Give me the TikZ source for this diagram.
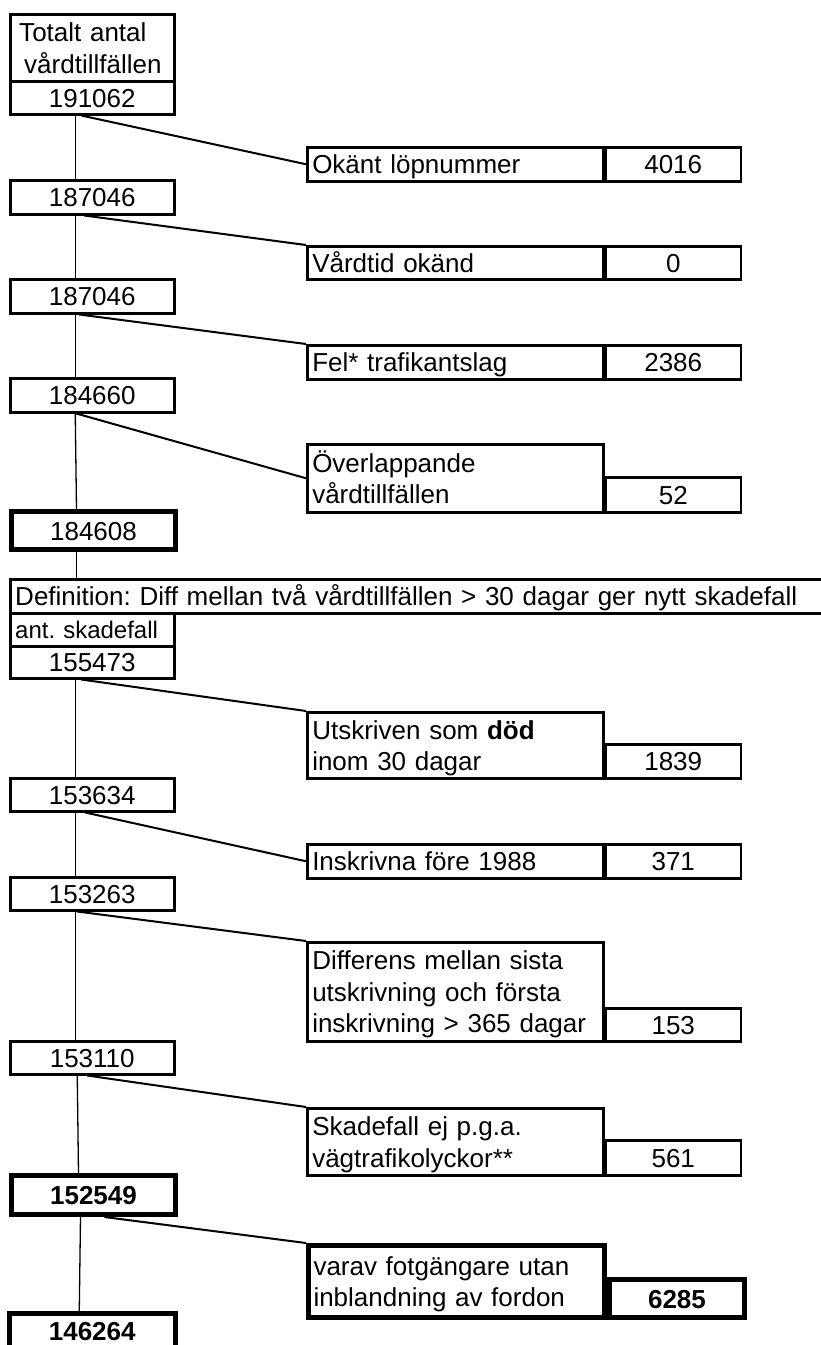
\documentclass[tikz,border=0pt]{standalone}
\usepackage{fontspec}
\setmainfont{Liberation Sans}
\frenchspacing
\usetikzlibrary{
		calc,
		positioning
	}
\tikzset{
		>=stealth,
		cell/.style={draw, line width=2.5pt, inner xsep=5pt, inner ysep=0pt,
			minimum height=33pt, anchor=north west, text height=19pt, text depth=0pt,
			font=\fontsize{26}{31.5}\selectfont},
		leftcell/.style={cell, minimum width=164pt, text width=154pt, align=center},
		labelcell/.style={cell, minimum width=296pt, text width=286pt, align=left},
		numcell/.style={cell, minimum width=135pt, text width=125pt, align=center,
			anchor=south west},
		heavy/.style={line width=5pt},
		stem/.style={line width=1.3pt},
		branch/.style={line width=2pt}
	}

\begin{document}
\begin{tikzpicture}[x=1pt, y=-1pt]
          \useasboundingbox (0,0) rectangle (821,1345);
          \clip (0,0) rectangle (821,1345);

          % left column
          \node[leftcell, align=left, minimum height=67pt, text depth=32pt,
               font=\fontsize{26}{32.5}\selectfont] (total) at (9,13)
               {\hspace*{4pt}Totalt antal\\\hspace*{9pt}vårdtillfällen};
          \node[leftcell] (n0) at (9,80) {191062};
          \node[leftcell, minimum height=34pt] (n1) at (9,179) {187046};
          \node[leftcell, minimum height=34pt] (n2) at (9,278) {187046};
          \node[leftcell, minimum height=34pt] (n3) at (9,377) {184660};
          \node[leftcell, heavy, minimum height=38pt] (n4) at (9,509) {184608};
          \node[cell, minimum width=900pt, text width=890pt, align=left,
               minimum height=34pt] (def) at (9,578)
               {Definition: Diff mellan två vårdtillfällen > 30 dagar ger nytt skadefall};
          \node[leftcell, align=left, text height=17.5pt,
               font=\fontsize{24}{30}\selectfont] (ant) at (9,612) {ant. skadefall};
          \node[leftcell, minimum height=32pt] (n5) at (9,645) {155473};
          \node[leftcell] (n6) at (9,777) {153634};
          \node[leftcell] (n7) at (9,876) {153263};
          \node[leftcell] (n8) at (9,1040) {153110};
          \node[leftcell, heavy, minimum height=39pt, font=\fontsize{26}{32}\selectfont\bfseries]
               (n9) at (9,1173) {152549};
          \node[leftcell, draw=none, minimum height=34pt,
               font=\fontsize{26}{32}\selectfont\bfseries] (n10) at (9,1313) {146264};
          \draw[heavy] (n10.south west) |- (n10.north east) -- (n10.south east);

          % right column
          \node[labelcell, minimum height=34pt] (r1) at (306,146) {Okänt löpnummer};
          \node[numcell, minimum height=34pt] (r1n) at (r1.south east) {4016};
          \node[labelcell] (r2) at (306,245) {Vårdtid okänd};
          \node[numcell] (r2n) at (r2.south east) {0};
          \node[labelcell, minimum height=34pt] (r3) at (306,344) {Fel* trafikantslag};
          \node[numcell, minimum height=34pt] (r3n) at (r3.south east) {2386};
          \node[labelcell, minimum height=68pt, text depth=31.5pt] (r4) at (306,443)
               {Överlappande\\vårdtillfällen};
          \node[numcell, minimum height=35pt] (r4n) at (r4.south east) {52};
          \node[labelcell, minimum height=66pt, text depth=31.5pt] (r5) at (306,711)
               {Utskriven som \textbf{död}\\inom 30 dagar};
          \node[numcell, minimum height=34pt] (r5n) at (r5.south east) {1839};
          \node[labelcell, minimum height=34pt] (r6) at (306,843) {Inskrivna före 1988};
          \node[numcell, minimum height=34pt] (r6n) at (r6.south east) {371};
          \node[labelcell, minimum height=99pt, text depth=63pt] (r7) at (306,941)
               {Differens mellan sista\\utskrivning och första\\inskrivning > 365 dagar};
          \node[numcell] (r7n) at (r7.south east) {153};
          \node[labelcell, minimum height=67pt, text depth=31.5pt] (r8) at (306,1107)
               {Skadefall ej p.g.a.\\vägtrafikolyckor**};
          \node[numcell, minimum height=35pt] (r8n) at (r8.south east) {561};
          \node[labelcell, heavy, minimum height=72pt, text depth=31.5pt] (r9) at (306,1243)
               {varav fotgängare utan\\inblandning av fordon};
          \node[numcell, heavy, minimum height=38pt, font=\fontsize{26}{32}\selectfont\bfseries]
               (r9n) at (r9.south east) {6285};

          % stems
          \draw[stem] ([xshift=-17pt]n0.south) -- ([xshift=-17pt]n1.north);
          \draw[stem] ([xshift=-17pt]n1.south) -- ([xshift=-17pt]n2.north);
          \draw[stem] ([xshift=-17pt]n2.south) -- ([xshift=-17pt]n3.north);
          \draw[stem] ([xshift=-17pt]n3.south) -- ([xshift=-17pt]n4.north);
          \draw[stem] ([xshift=-17pt]n4.south) -- ([xshift=-17pt]n4.south |- def.north);
          \draw[stem] ([xshift=-17pt]n5.south) -- ([xshift=-17pt]n6.north);
          \draw[stem] ([xshift=-17pt]n6.south) -- ([xshift=-17pt]n7.north);
          \draw[stem] ([xshift=-17pt]n7.south) -- ([xshift=-17pt]n8.north);
          \draw[stem] ([xshift=-15pt]n8.south) -- ([xshift=-15pt]n9.north);
          \draw[stem] ([xshift=-13pt]n9.south) -- ([xshift=-13pt]n10.north);

          % branches
          \draw[branch] ([xshift=-11pt]n0.south) -- (r1.west);
          \draw[branch] ([xshift=-8pt]n1.south) -- (r2.north west);
          \draw[branch] ([xshift=-13pt]n2.south) -- (r3.north west);
          \draw[branch] ([xshift=-16pt]n3.south) -- (r4.west);
          \draw[branch] ([xshift=-11pt]n5.south) -- (r5.north west);
          \draw[branch] ([xshift=-7pt]n6.south) -- (r6.west);
          \draw[branch] ([xshift=-15pt]n7.south) -- (r7.north west);
          \draw[branch] ([xshift=-5pt]n8.south) -- (r8.north west);
          \draw[branch] ([xshift=11pt]n9.south) -- (r9.north west);

          \end{tikzpicture}
\end{document}
